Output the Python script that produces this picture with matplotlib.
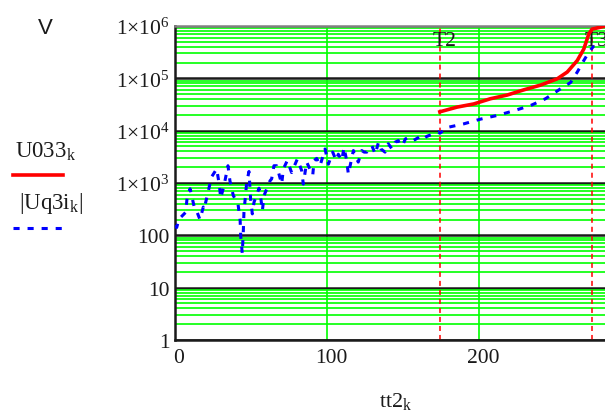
import numpy as np
import matplotlib.pyplot as plt
import matplotlib.transforms as mtransforms
from matplotlib.lines import Line2D
from matplotlib.ticker import FixedLocator, LogLocator, NullFormatter

plt.rcParams['font.family'] = 'Liberation Serif'
plt.rcParams['mathtext.fontset'] = 'custom'
plt.rcParams['mathtext.rm'] = 'Liberation Serif'
plt.rcParams['mathtext.it'] = 'Liberation Serif:italic'
plt.rcParams['mathtext.default'] = 'regular'

# |Uq3i| vs tt2 (noisy early part, smooth after T2)
tt2_q = [0, 1.1, 2.6, 7, 8.1, 8.8, 9.9, 12.5, 13.2, 16.4,
         18.6, 19.1, 21.7, 23.9, 27.4, 29.2, 30, 32.2, 34.8, 36.1,
         38.3, 41.4, 42.8, 43.2, 44.2, 44.9, 45.3, 47.1, 48.6, 49.7,
         50.8, 51.9, 55.2, 56.3, 57.4, 58.5, 62.4, 63.5, 65, 66.8,
         70.1, 71.2, 73.8, 76.6, 80.4, 83.2, 84.3, 86.5, 90.5, 91.4,
         93.1, 95.3, 98.6, 100.8, 103.6, 105.9, 107.3, 109.6, 111, 112.8,
         113.9, 117.2, 120.4, 122.7, 124.3, 126, 127.2, 129.4, 131.6, 133.7,
         135.3, 138, 140.1, 142.6, 144.7, 146.7, 148, 150, 151.3, 153.3,
         156.6, 160, 161, 163.4, 165.4, 169.7, 173, 174,
         178.7, 189.7, 200.7, 211.6, 222.6, 233.6, 243.4, 253.3, 259.9, 264.3,
         268.6, 271.9, 275.2]
uq3i = [151, 141, 204, 275, 575, 617, 776, 363, 347, 200,
        347, 316, 661, 1288, 1862, 891, 513, 891, 2138, 1096,
        575, 398, 191, 95, 45, 123, 275, 1023, 1660, 490,
        257, 427, 794, 537, 295, 575, 1096, 1202, 2138, 2138,
        955, 1862, 2692, 1585, 2884, 1738, 955, 2512, 1413, 2692,
        2951, 2138, 4467, 2291, 3890, 2692, 3548, 2692, 4786, 2692,
        1479, 4169, 2512, 4169, 3890, 3890, 4467, 5129, 3548, 6026,
        4467, 3890, 5623, 4467, 6026, 6457, 5129, 5623, 6918, 7413,
        6457, 7413, 7762, 6918, 7762, 8710, 9550, 8913,
        11480, 13490, 16600, 19500, 24000, 30200, 40700, 63100, 83200, 131800,
        218800, 316200, 416900]

# U033 vs tt2
tt2_u = [174, 185.3, 196.3, 207.2, 218.2, 229.2, 240.1, 251.1, 257.7, 264.3,
         268.6, 271.9, 274, 283]
u033 = [22900, 28200, 32400, 40700, 47900, 60300, 74100, 97700, 131800, 218800,
        363100, 707900, 871000, 1000000]

T2 = 174
T3 = 274
xticks = [0, 100, 200]
yticks = [1, 10, 100, 1e3, 1e4, 1e5, 1e6]
ylabels = ['1', '10', '100', r'$1{\times}10^{3}$', r'$1{\times}10^{4}$',
           r'$1{\times}10^{5}$', r'$1{\times}10^{6}$']

W, H = 605, 414
fig = plt.figure(figsize=(W / 100, H / 100), dpi=100)
# plot box runs past the right edge of the figure
ax = fig.add_axes([175 / W, 73 / H, 290 * 1.522 / W, 314 / H])

ax.set_yscale('log')
ax.set_xlim(0, 290)
ax.set_ylim(1, 1e6)

ax.xaxis.set_major_locator(FixedLocator(xticks))
ax.yaxis.set_major_locator(FixedLocator(yticks))
ax.yaxis.set_minor_locator(LogLocator(base=10, subs=np.arange(2, 10), numticks=20))
ax.yaxis.set_minor_formatter(NullFormatter())
ax.set_yticklabels(ylabels)
ax.set_xticklabels([str(v) for v in xticks])

ax.set_axisbelow(True)
ax.grid(True, which='minor', axis='y', color='#00ff00', lw=1.2)
ax.grid(True, which='major', axis='y', color='#1a1a1a', lw=1.8)
ax.grid(True, which='major', axis='x', color='#00ff00', lw=1.2)

ax.tick_params(which='both', length=0, labelsize=15.5, colors='#1a1a1a')
ax.tick_params(axis='y', pad=4)
ax.tick_params(axis='x', pad=6)
shift = mtransforms.ScaledTranslation(4 / 100, 0, fig.dpi_scale_trans)
for lbl in ax.get_xticklabels():
    lbl.set_transform(lbl.get_transform() + shift)

for side in ['left', 'bottom']:
    ax.spines[side].set_color('#1a1a1a')
    ax.spines[side].set_linewidth(1.8)
ax.spines['top'].set_color('#808080')
ax.spines['top'].set_linewidth(1.8)
ax.spines['right'].set_visible(False)

# marker lines at T2 and T3
for t in [T2, T3]:
    ax.axvline(t, color='#ff0000', lw=1.1, ls=(0, (3.3, 2.6)), zorder=2)
ax.text(T2 + 3, 5.2e5, 'T2', ha='center', va='center', fontsize=15.5, color='#1a1a1a')
ax.text(T3 + 3, 5.2e5, 'T3', ha='center', va='center', fontsize=15.5, color='#1a1a1a')

blue_dash = (0, (2.0, 2.6))
ax.plot(tt2_u, u033, color='#ff0000', lw=2.6, zorder=4)
ax.plot(tt2_q, uq3i, color='#0000ff', lw=2.2, ls=blue_dash, zorder=3)

# axis titles and legend, Mathcad style
fig.text(45 / W, 1 - 28 / H, 'V', family='Liberation Sans', fontsize=16,
         ha='center', va='center', color='#1a1a1a')
fig.text(396 / W, 1 - 402 / H, r'$tt2_k$', fontsize=16, ha='center',
         va='center', color='#1a1a1a')
fig.text(15 / W, 1 - 152 / H, r'$U033_k$', fontsize=16.5, ha='left',
         va='center', color='#1a1a1a')
fig.add_artist(Line2D([13 / W, 63 / W], [1 - 176 / H, 1 - 176 / H],
                      color='#ff0000', lw=2.6, transform=fig.transFigure))
fig.text(19 / W, 1 - 204 / H, r'$|Uq3i_k|$', fontsize=16.5, ha='left',
         va='center', color='#1a1a1a')
fig.add_artist(Line2D([13 / W, 62 / W], [1 - 229 / H, 1 - 229 / H],
                      color='#0000ff', lw=2.2, ls=blue_dash,
                      transform=fig.transFigure))

fig.savefig('out.png', dpi=100)
